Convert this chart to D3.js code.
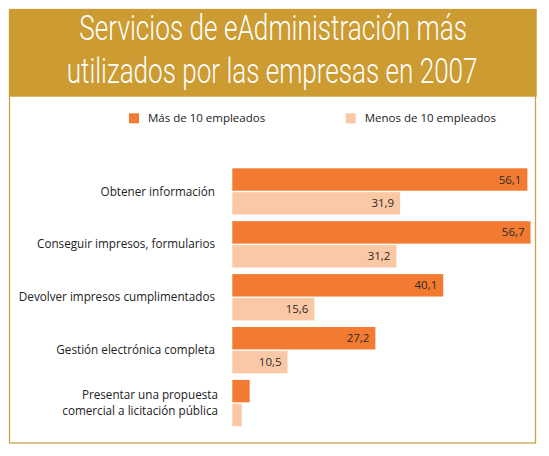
<!DOCTYPE html>
<html>
<head>
<meta charset="utf-8">
<script src="https://cdn.jsdelivr.net/npm/d3@7"></script>
<style>
  html, body { margin: 0; padding: 0; background: #ffffff; }
  svg { display: block; }
</style>
</head>
<body>
<div id="chart"></div>
<script>
// ---- data ----
const titleLines = ["Servicios de eAdministración más", "utilizados por las empresas en 2007"];
const categories = [
  "Obtener información",
  "Conseguir impresos, formularios",
  "Devolver impresos cumplimentados",
  "Gestión electrónica completa",
  "Presentar una propuesta\ncomercial a licitación pública"
];
const seriesNames = ["Más de 10 empleados", "Menos de 10 empleados"];
const masDe10 = [56.1, 56.7, 40.1, 27.2, 3.3];
const menosDe10 = [31.9, 31.2, 15.6, 10.5, 1.8];
const showValue = [true, true, true, true, false];

// ---- setup ----
const W = 549, H = 456;
const colors = ["#F37B31", "#FBC8A6"];
const gold = "#CC9B31";
const font = "'Open Sans', 'Noto Sans', sans-serif";

const svg = d3.select("#chart").append("svg").attr("width", W).attr("height", H);

// frame
svg.append("rect").attr("x", 9.5).attr("y", 9.5).attr("width", 526).attr("height", 433.5)
  .attr("fill", "#fff").attr("stroke", "#C9A44A").attr("stroke-width", 1.3);
// header
svg.append("rect").attr("x", 9).attr("y", 9).attr("width", 527.7).attr("height", 87.7).attr("fill", gold);

// title (condensed look via horizontal scaling of Roboto Light)
const titleStart = [79.3, 66.7];
const titleWidth = [388, 411];
const titleBase = [40, 82.5];
svg.selectAll("text.title").data(titleLines).join("text")
  .attr("class", "title")
  .attr("x", 0).attr("y", 0)
  .attr("font-family", "Roboto, sans-serif").attr("font-weight", 300)
  .attr("font-size", 35).attr("fill", "#fff")
  .text(d => d)
  .each(function(d, i) {
    const natural = this.getComputedTextLength();
    const k = titleWidth[i] / natural;
    d3.select(this).attr("transform", `translate(${titleStart[i]},${titleBase[i]}) scale(${k},1)`);
  });

// legend
const legendX = [129, 345.7];
const lg = svg.selectAll("g.legend").data(seriesNames).join("g")
  .attr("class", "legend")
  .attr("transform", (d, i) => `translate(${legendX[i]},113.3)`);
lg.append("rect").attr("width", 10).attr("height", 10).attr("fill", (d, i) => colors[i]);
lg.append("text").attr("x", 19).attr("y", 5).attr("dy", "0.35em")
  .attr("font-family", font).attr("font-size", 11.5).attr("fill", "#222")
  .text(d => d);

// scales
const x = d3.scaleLinear().domain([0, 100]).range([232.3, 758.3]);
const y0 = d3.scaleBand().domain(categories).range([168.3, 426.2]).paddingInner(0.125).paddingOuter(0);
const y1 = d3.scaleBand().domain(seriesNames).range([0, y0.bandwidth()]).paddingInner(0.06);

const rows = categories.map((c, i) => ({
  cat: c, show: showValue[i],
  vals: [{ s: seriesNames[0], v: masDe10[i], k: 0 }, { s: seriesNames[1], v: menosDe10[i], k: 1 }]
}));

const fmt = v => d3.format(".1f")(v).replace(".", ",");

const groups = svg.selectAll("g.grp").data(rows).join("g")
  .attr("class", "grp")
  .attr("transform", d => `translate(0,${y0(d.cat)})`);

groups.selectAll("rect").data(d => d.vals).join("rect")
  .attr("x", x(0))
  .attr("y", d => y1(d.s))
  .attr("width", d => x(d.v) - x(0))
  .attr("height", y1.bandwidth())
  .attr("fill", d => colors[d.k]);

groups.filter(d => d.show).selectAll("text.val").data(d => d.vals).join("text")
  .attr("class", "val")
  .attr("x", d => x(d.v) - 6)
  .attr("y", d => y1(d.s) + y1.bandwidth() / 2)
  .attr("dy", "0.35em")
  .attr("text-anchor", "end")
  .attr("font-family", font).attr("font-size", 11.5).attr("fill", "#2a2a2a")
  .text(d => fmt(d.v));

// category labels
groups.each(function(d) {
  const lines = d.cat.split("\n");
  const mid = y0.bandwidth() / 2;
  const t = d3.select(this).append("text")
    .attr("text-anchor", "end")
    .attr("font-family", font).attr("font-size", 11.7).attr("fill", "#222");
  lines.forEach((ln, j) => {
    t.append("tspan")
      .attr("x", lines.length > 1 ? 218 : 215)
      .attr("y", mid + (j - (lines.length - 1) / 2) * 16)
      .attr("dy", "0.35em")
      .text(ln);
  });
});
</script>
</body>
</html>
